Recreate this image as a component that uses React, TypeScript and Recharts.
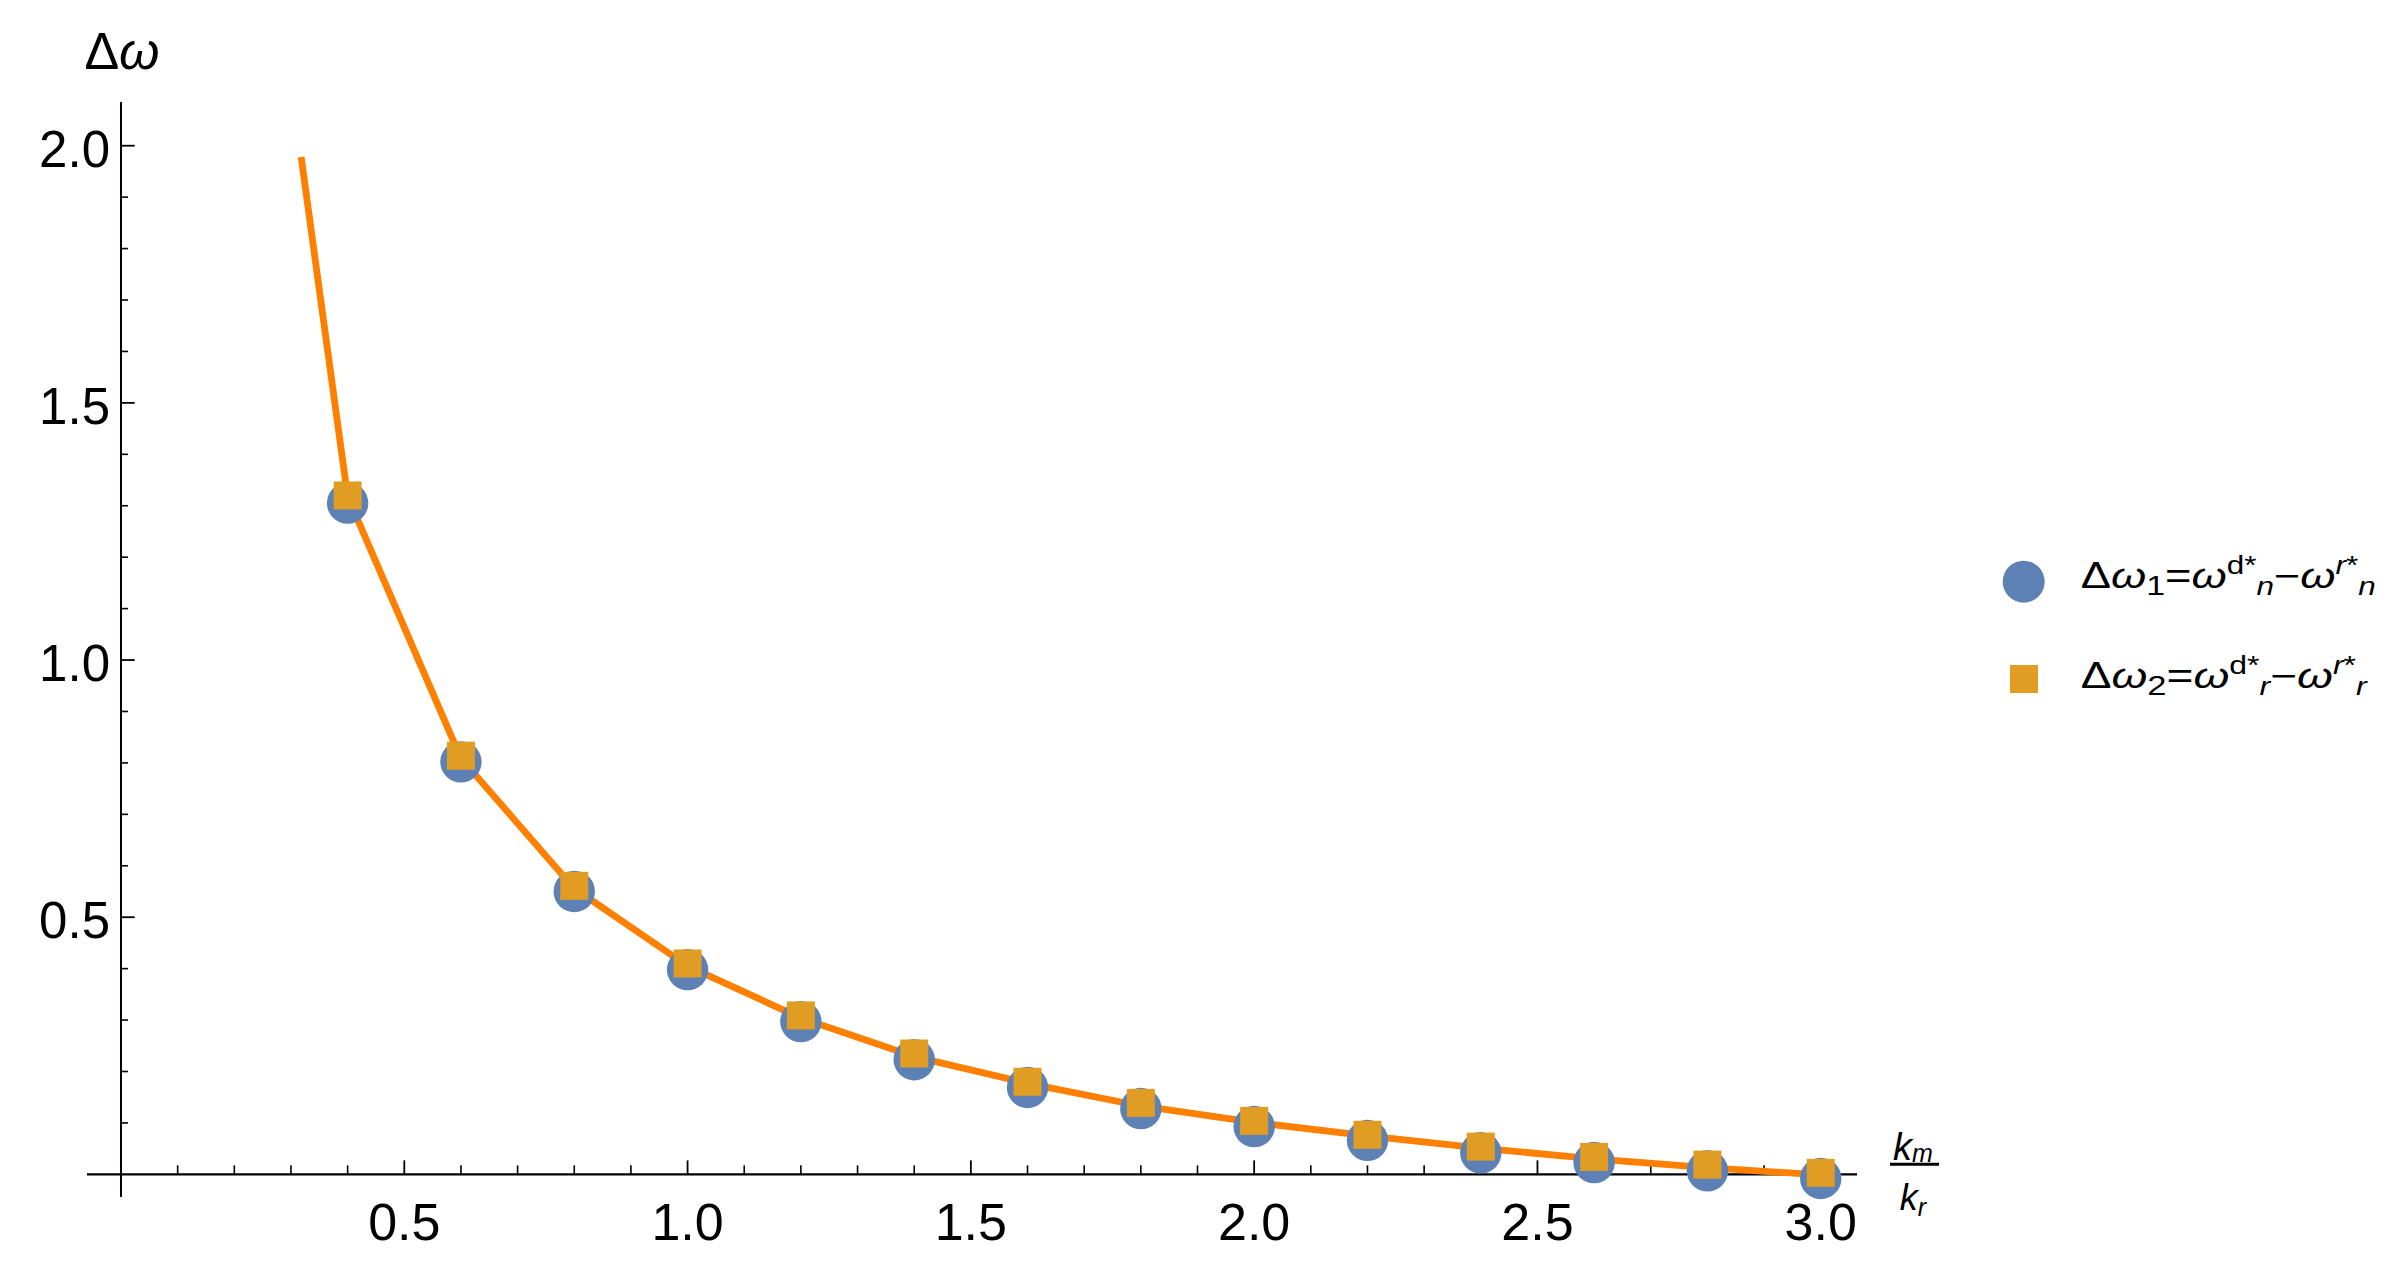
import { ComposedChart, Scatter, Line, XAxis, YAxis, ReferenceLine, Legend } from "recharts";

// sample points (k_m / k_r)
const pointX = [0.4, 0.6, 0.8, 1.0, 1.2, 1.4, 1.6, 1.8, 2.0, 2.2, 2.4, 2.6, 2.8, 3.0];
// Δω1 = ω^{d*}_n − ω^{r*}_n
const circleY = [1.305, 0.802, 0.55, 0.398, 0.297, 0.223, 0.169, 0.128, 0.093, 0.066, 0.042, 0.023, 0.007, -0.008];
// Δω2 = ω^{d*}_r − ω^{r*}_r
const squareY = [1.32, 0.814, 0.561, 0.41, 0.309, 0.235, 0.18, 0.139, 0.104, 0.077, 0.054, 0.034, 0.019, 0.003];
// orange curve
const curveX = [0.318, 0.4, 0.6, 0.8, 1.0, 1.2, 1.4, 1.6, 1.8, 2.0, 2.2, 2.4, 2.6, 2.8, 3.0];
const curveY = [1.978, 1.318, 0.809, 0.556, 0.405, 0.304, 0.229, 0.177, 0.133, 0.101, 0.075, 0.051, 0.03, 0.013, -0.001];

const xMajor = [0.5, 1.0, 1.5, 2.0, 2.5, 3.0];
const xMinor = [0.1, 0.2, 0.3, 0.4, 0.6, 0.7, 0.8, 0.9, 1.1, 1.2, 1.3, 1.4, 1.6, 1.7, 1.8, 1.9, 2.1, 2.2, 2.3, 2.4, 2.6, 2.7, 2.8, 2.9];
const yMajor = [0.5, 1.0, 1.5, 2.0];
const yMinor = [0.1, 0.2, 0.3, 0.4, 0.6, 0.7, 0.8, 0.9, 1.1, 1.2, 1.3, 1.4, 1.6, 1.7, 1.8, 1.9];

const circles = pointX.map((x, i) => ({ x, y: circleY[i] }));
const squares = pointX.map((x, i) => ({ x, y: squareY[i] }));
const curve = curveX.map((x, i) => ({ x, y: curveY[i] }));

const FONT = "'Liberation Sans', Arial, sans-serif";
const BLUE = "#5E81B5";
const GOLD = "#E19C24";
const ORANGE = "#FF8000";

const W = 2398;
const H = 1265;
const margin = { top: 102, right: 541, bottom: 0, left: 0 };
const yAxisWidth = 87;
const xAxisHeight = 68;
const xDomain: [number, number] = [-0.06, 3.064];
const yDomain: [number, number] = [-0.044, 2.085];

const plotW = W - margin.left - margin.right - yAxisWidth;
const plotH = H - margin.top - margin.bottom - xAxisHeight;
// tick lengths in px, turned into data units
const xUnit = (xDomain[1] - xDomain[0]) / plotW;
const yUnit = (yDomain[1] - yDomain[0]) / plotH;

function XTick({ x, y, payload }: any) {
  return (
    <text x={x} y={y + 43} textAnchor="middle" fontSize={52} fontFamily={FONT} fill="#000">
      {Number(payload.value).toFixed(1)}
    </text>
  );
}

function YTick({ x, y, payload }: any) {
  return (
    <text x={x + 23} y={y + 21} textAnchor="end" fontSize={51} fontFamily={FONT} fill="#000">
      {Number(payload.value).toFixed(1)}
    </text>
  );
}

function LegendBox() {
  return (
    <svg width={408} height={190} style={{ display: "block" }}>
      <circle cx={33.7} cy={41.7} r={21} fill={BLUE} />
      <rect x={20} y={125} width={28} height={28} fill={GOLD} />
      <text x={90.7} y={48.3} fontSize={36} fontFamily={FONT} fill="#000" textLength={295} lengthAdjust="spacingAndGlyphs">
        Δ<tspan fontStyle="italic">ω</tspan>
        <tspan fontSize={27} y={55}>1</tspan>
        <tspan y={48.3}>=</tspan>
        <tspan fontStyle="italic">ω</tspan>
        <tspan fontSize={25} y={34}>d*</tspan>
        <tspan fontSize={25} fontStyle="italic" y={55}>n</tspan>
        <tspan y={48.3}>−</tspan>
        <tspan fontStyle="italic">ω</tspan>
        <tspan fontSize={25} fontStyle="italic" y={34}>r</tspan>
        <tspan fontSize={25} y={34}>*</tspan>
        <tspan fontSize={25} fontStyle="italic" y={55}>n</tspan>
      </text>
      <text x={90.7} y={148.3} fontSize={36} fontFamily={FONT} fill="#000" textLength={286} lengthAdjust="spacingAndGlyphs">
        Δ<tspan fontStyle="italic">ω</tspan>
        <tspan fontSize={27} y={155}>2</tspan>
        <tspan y={148.3}>=</tspan>
        <tspan fontStyle="italic">ω</tspan>
        <tspan fontSize={25} y={134}>d*</tspan>
        <tspan fontSize={25} fontStyle="italic" y={155}>r</tspan>
        <tspan y={148.3}>−</tspan>
        <tspan fontStyle="italic">ω</tspan>
        <tspan fontSize={25} fontStyle="italic" y={134}>r</tspan>
        <tspan fontSize={25} y={134}>*</tspan>
        <tspan fontSize={25} fontStyle="italic" y={155}>r</tspan>
      </text>
    </svg>
  );
}

function YAxisTitle({ viewBox }: any) {
  const { x, y } = viewBox;
  return (
    <text x={x + 1} y={y - 33} textAnchor="middle" fontSize={52} fontFamily={FONT} fill="#000">
      Δ<tspan fontStyle="italic">ω</tspan>
    </text>
  );
}

function XAxisTitle({ viewBox }: any) {
  const right = viewBox.x + viewBox.width;
  const y0 = viewBox.y;
  const cx = right + 56;
  return (
    <g fontFamily={FONT} fill="#000">
      <text x={cx} y={y0 - 14} textAnchor="middle" fontSize={38} fontStyle="italic">
        k<tspan fontSize={25} dy={2}>m</tspan>
      </text>
      <line x1={right + 33} x2={right + 82} y1={y0 - 10} y2={y0 - 10} stroke="#000" strokeWidth={3} />
      <text x={cx} y={y0 + 36} textAnchor="middle" fontSize={36} fontStyle="italic">
        k<tspan fontSize={25} dy={6}>r</tspan>
      </text>
    </g>
  );
}

export default function App() {
  return (
    <div style={{ width: W, height: H, background: "#fff" }}>
      <style>{"body{margin:0;}"}</style>
      <ComposedChart width={W} height={H} margin={margin}>
        <XAxis
          type="number"
          dataKey="x"
          domain={xDomain}
          ticks={xMajor}
          height={xAxisHeight}
          axisLine={false}
          tickLine={false}
          tickSize={0}
          tickMargin={0}
          tick={(p: any) => <XTick {...p} />}
        />
        <YAxis
          type="number"
          domain={yDomain}
          ticks={yMajor}
          width={yAxisWidth}
          axisLine={false}
          tickLine={false}
          tickSize={0}
          tickMargin={0}
          tick={(p: any) => <YTick {...p} />}
        />
        <ReferenceLine y={0} stroke="#000" strokeWidth={2.2} label={(p: any) => <XAxisTitle {...p} />} />
        <ReferenceLine x={0} stroke="#000" strokeWidth={2} label={(p: any) => <YAxisTitle {...p} />} />
        {xMajor.map((t) => (
          <ReferenceLine key={"xM" + t} segment={[{ x: t, y: 0 }, { x: t, y: 14 * yUnit }]} stroke="#000" strokeWidth={1.8} />
        ))}
        {xMinor.map((t) => (
          <ReferenceLine key={"xm" + t} segment={[{ x: t, y: 0 }, { x: t, y: 9 * yUnit }]} stroke="#000" strokeWidth={1.6} />
        ))}
        {yMajor.map((t) => (
          <ReferenceLine key={"yM" + t} segment={[{ x: 0, y: t }, { x: 13.7 * xUnit, y: t }]} stroke="#000" strokeWidth={1.8} />
        ))}
        {yMinor.map((t) => (
          <ReferenceLine key={"ym" + t} segment={[{ x: 0, y: t }, { x: 7 * xUnit, y: t }]} stroke="#000" strokeWidth={1.6} />
        ))}
        <Scatter
          data={circles}
          dataKey="y"
          isAnimationActive={false}
          shape={(p: any) => <circle cx={p.cx} cy={p.cy} r={20.7} fill={BLUE} />}
        />
        <Scatter
          data={squares}
          dataKey="y"
          isAnimationActive={false}
          shape={(p: any) => <rect x={p.cx - 14} y={p.cy - 14} width={28} height={28} fill={GOLD} />}
        />
        <Line
          data={curve}
          dataKey="y"
          type="linear"
          stroke={ORANGE}
          strokeWidth={6.8}
          strokeLinejoin="round"
          dot={false}
          activeDot={false}
          isAnimationActive={false}
        />
        <Legend
          layout="vertical"
          align="center"
          verticalAlign="middle"
          wrapperStyle={{ left: 1990, top: 540, width: 408, height: 190 }}
          content={() => <LegendBox />}
        />
      </ComposedChart>
    </div>
  );
}
